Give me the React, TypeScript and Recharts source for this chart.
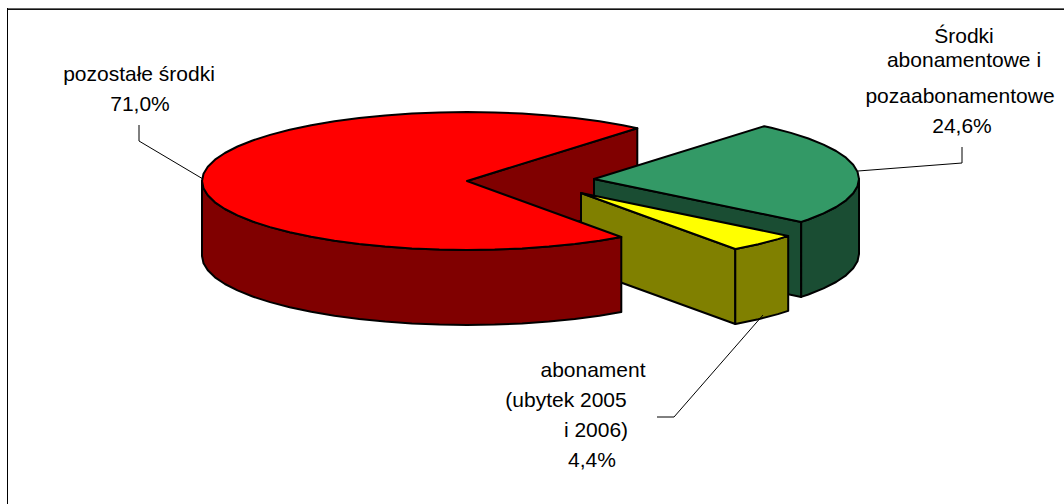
import { Pie, PieChart } from 'recharts';

const SLICE_NAMES = ['Środki abonamentowe i pozaabonamentowe', 'abonament (ubytek 2005 i 2006)', 'pozostałe środki'];
const SLICE_VALUES = [24.6, 4.4, 71.0];

const tableData = SLICE_NAMES.map((name, i) => ({ name, value: SLICE_VALUES[i] }));

const WIDTH = 1064;
const HEIGHT = 504;
const CX = 467;
const CY = 181;
const RADIUS = 265;
const FLATTEN = 0.26; // how much the 3D tilt squashes the disc
const DEPTH = 75;
const ARC_STEP = 6; // Excel draws the rim as short straight bits
const START_ANGLE = 50;

const TOP_COLORS = ['#339966', '#ffff00', '#ff0000'];
const WALL_COLORS = ['#1a4d33', '#808000', '#800000'];
const EXPLODE: [number, number][] = [[127, -2], [114, 12], [0, 0]];

// text lines and leader lines, same order as the slices
const LABELS = [
  [
    { text: 'Środki', x: 964, y: 43 },
    { text: 'abonamentowe i', x: 964, y: 67 },
    { text: 'pozaabonamentowe', x: 960, y: 103 },
  ],
  [
    { text: 'abonament', x: 593, y: 377 },
    { text: '(ubytek 2005', x: 566, y: 407 },
    { text: 'i 2006)', x: 596, y: 437 },
  ],
  [{ text: 'pozostałe środki', x: 139, y: 81 }],
];
const PERCENT_POS = [
  { x: 962, y: 133 },
  { x: 592, y: 467 },
  { x: 140, y: 111 },
];
const LEADERS = [
  '858,171 962,163 962,147',
  '763,315 674,417 657,417',
  '203,179 139,141 139,125',
];

function rim(x: number, y: number, deg: number): [number, number] {
  const a = (deg * Math.PI) / 180;
  return [x + RADIUS * Math.cos(a), y - RADIUS * FLATTEN * Math.sin(a)];
}

// sample an arc going from hi down to lo
function arcPoints(x: number, y: number, hi: number, lo: number): [number, number][] {
  const pts: [number, number][] = [rim(x, y, hi)];
  let a = Math.floor(hi / ARC_STEP) * ARC_STEP;
  if (a === hi) a -= ARC_STEP;
  for (; a > lo; a -= ARC_STEP) pts.push(rim(x, y, a));
  pts.push(rim(x, y, lo));
  return pts;
}

const toPath = (pts: [number, number][]) =>
  'M' + pts.map((p) => `${p[0].toFixed(1)},${p[1].toFixed(1)}`).join('L') + 'Z';

const drop = (pts: [number, number][]) => pts.map((p) => [p[0], p[1] + DEPTH] as [number, number]);

function flatWall(x: number, y: number, deg: number) {
  const e = rim(x, y, deg);
  return toPath([[x, y], e, [e[0], e[1] + DEPTH], [x, y + DEPTH]]);
}

function Slice(props: any, part: 'back' | 'body') {
  const { index, startAngle, endAngle } = props;
  const hi = Math.max(startAngle, endAngle);
  const lo = Math.min(startAngle, endAngle);
  const x = props.cx + EXPLODE[index][0];
  const y = props.cy + EXPLODE[index][1];
  const line = { stroke: '#000', strokeWidth: 2, strokeLinejoin: 'round' as const };
  const wall = WALL_COLORS[index];

  const isRed = index === 2;
  // the far inner wall of the big slice sits behind the other two
  if (part === 'back') {
    return isRed ? <path d={flatWall(x, y, lo)} fill={wall} {...line} /> : <g />;
  }

  const walls = [];
  if (!isRed && Math.cos((lo * Math.PI) / 180) > 0) {
    walls.push(<path key="lo" d={flatWall(x, y, lo)} fill={wall} {...line} />);
  }
  // rim wall only where the rim faces the viewer
  const from = Math.min(hi, 0);
  const to = Math.max(lo, -180);
  if (from > to) {
    const arc = arcPoints(x, y, from, to);
    walls.push(<path key="rim" d={toPath([...arc, ...drop(arc).reverse()])} fill={wall} {...line} />);
  }
  return (
    <g>
      {walls}
      <path d={toPath([[x, y], ...arcPoints(x, y, hi, lo)])} fill={TOP_COLORS[index]} {...line} />
    </g>
  );
}

function renderLabel(props: any) {
  const { index, percent } = props;
  const font = { fontFamily: '"Liberation Sans", Arial, sans-serif', fontSize: 21, fill: '#000', textAnchor: 'middle' as const };
  return (
    <g key={index}>
      <polyline points={LEADERS[index]} fill="none" stroke="#000" strokeWidth={1} />
      {LABELS[index].map((l) => (
        <text key={l.text} x={l.x} y={l.y} {...font}>
          {l.text}
        </text>
      ))}
      <text x={PERCENT_POS[index].x} y={PERCENT_POS[index].y} {...font}>
        {(percent * 100).toFixed(1).replace('.', ',')}%
      </text>
    </g>
  );
}

export default function App() {
  return (
    <div style={{ position: 'absolute', left: 0, top: 0, width: WIDTH, height: HEIGHT, background: '#fff', overflow: 'hidden' }}>
      {/* only the top and left edges of the frame are in the picture */}
      <div style={{ position: 'absolute', left: 7, top: 8, right: 0, height: 1, background: '#666' }} />
      <div style={{ position: 'absolute', left: 7, top: 9, right: 0, height: 1, background: '#111' }} />
      <div style={{ position: 'absolute', left: 7, top: 8, bottom: 0, width: 1, background: '#000' }} />
      <PieChart width={WIDTH} height={HEIGHT} margin={{ top: 0, right: 0, bottom: 0, left: 0 }}>
        <Pie
          data={tableData}
          dataKey="value"
          nameKey="name"
          cx={CX}
          cy={CY}
          outerRadius={RADIUS}
          startAngle={START_ANGLE}
          endAngle={START_ANGLE - 360}
          isAnimationActive={false}
          shape={(p: any) => Slice(p, 'back')}
        />
        <Pie
          data={tableData}
          dataKey="value"
          nameKey="name"
          cx={CX}
          cy={CY}
          outerRadius={RADIUS}
          startAngle={START_ANGLE}
          endAngle={START_ANGLE - 360}
          isAnimationActive={false}
          shape={(p: any) => Slice(p, 'body')}
          label={renderLabel}
          labelLine={false}
        />
      </PieChart>
    </div>
  );
}
